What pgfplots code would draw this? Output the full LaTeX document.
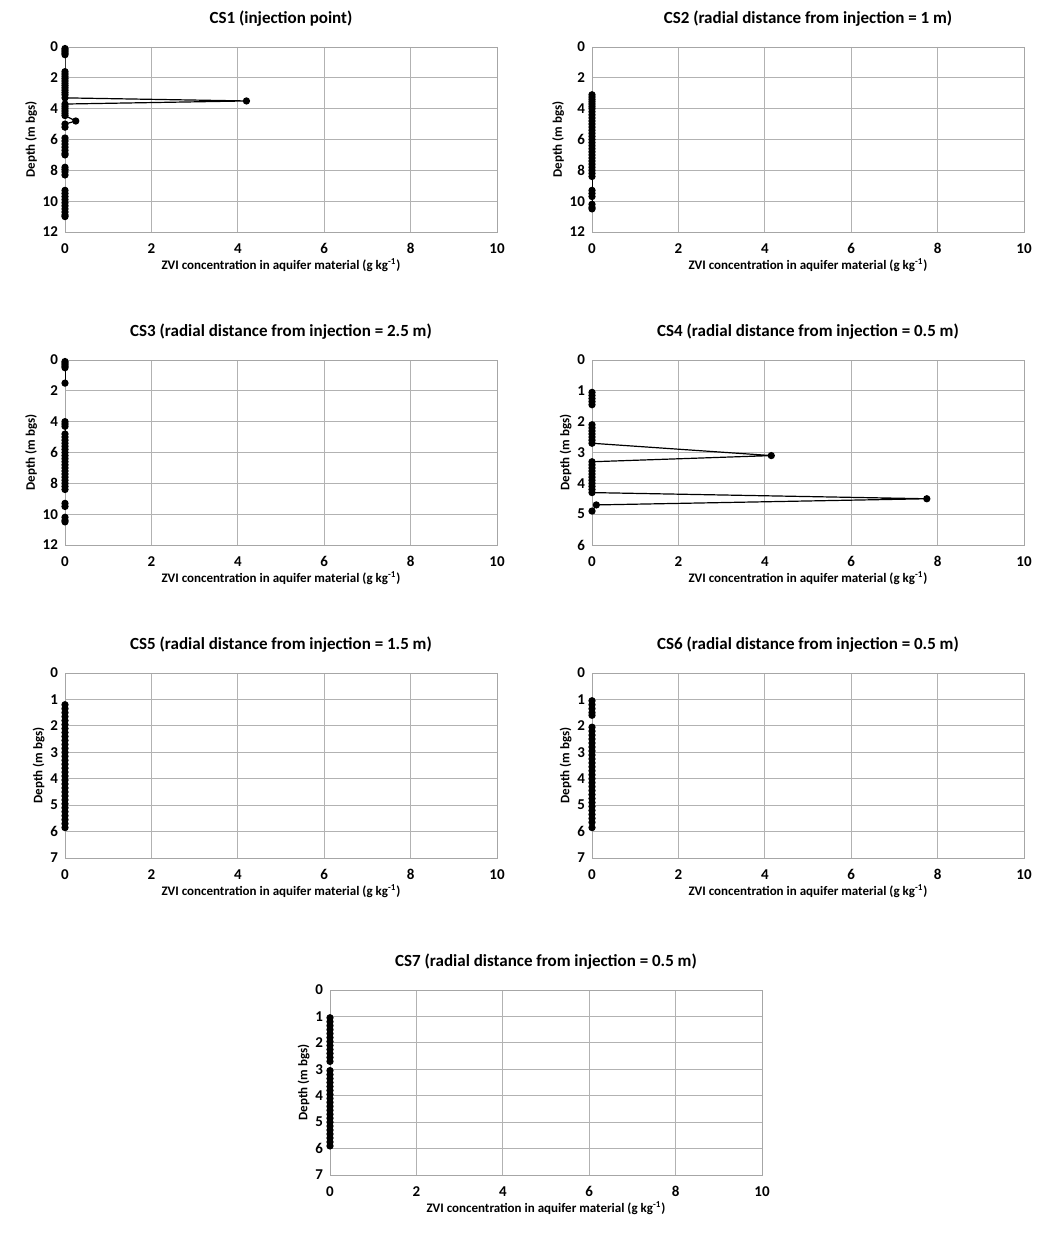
\documentclass[border=0pt]{standalone}
\usepackage{pgfplots}
\pgfplotsset{compat=1.18}
\usepackage{fontspec}
\setmainfont{Carlito}[Numbers=Lining]
\pgfplotsset{cs/.style={width=216pt,height=92.5pt,scale only axis,y dir=reverse,
 xmin=0,xmax=10,xtick={0,2,...,10},xticklabels={0,2,4,6,8,10},grid=major,grid style={gray!60,line width=0.4pt},
 axis line style={gray!70},tick style={draw=none},
 ticklabel style={font=\fontsize{7.5}{8}\selectfont\bfseries},
 xticklabel style={yshift=-1pt,text height=6pt,text depth=0pt},
 title style={font=\fontsize{8.5}{10}\selectfont\bfseries,yshift=1pt},
 xlabel style={font=\fontsize{6.5}{7}\selectfont\bfseries,yshift=4pt},
 ylabel style={font=\fontsize{6.5}{7}\selectfont\bfseries,yshift=-4pt},
 xlabel={ZVI concentration in aquifer material (g kg\textsuperscript{-1})},
 ylabel={Depth (m bgs)},anchor=south west,unbounded coords=jump},
 y12/.style={ymin=0,ymax=12,ytick={0,2,...,12},yticklabels={0,2,4,6,8,10,12}},
 y6/.style={ymin=0,ymax=6,ytick={0,1,...,6},yticklabels={0,1,2,3,4,5,6}},
 y7/.style={ymin=0,ymax=7,ytick={0,1,...,7},yticklabels={0,1,2,3,4,5,6,7}},
 dat/.style={black,line width=0.6pt,mark=*,mark size=1.5pt}}
\begin{document}
\begin{tikzpicture}
\path (0,0) rectangle (522pt,-620pt);
\begin{axis}[cs,y12,at={(32.5pt,-116pt)},title={CS1 (injection point)}]
\addplot[dat] coordinates {(0,0.1)(0,0.2)(0,0.3)(0,0.4)(0,0.5)(0,1.6)(0,1.75)(0,1.9)(0,2.05)(0,2.2)(0,2.35)(0,2.5)(0,2.65)(0,2.8)(0,2.95)(0,3.1)(0,3.3)(4.2,3.5)(0,3.7)(0,3.85)(0,4.0)(0,4.15)(0,4.3)(0,4.45)(0.25,4.8)(0,5.0)(0,5.2) (nan,nan)
(0,5.9)(0,6.1)(0,6.3)(0,6.5)(0,6.7)(0,6.9)(0,7.0)(nan,nan)(0,7.8)(0,7.95)(0,8.1)(0,8.3)(nan,nan)(0,9.3)(0,9.5)(0,9.7)(0,9.9)(0,10.1)(0,10.3)(0,10.5)(0,10.7)(0,10.9)(0,11.0)};
\end{axis}
\begin{axis}[cs,y12,at={(296pt,-116pt)},title={CS2 (radial distance from injection = 1 m)}]
\addplot[dat] coordinates {(0,3.1)(0,3.25)(0,3.4)(0,3.55)(0,3.7)(0,3.85)(0,4.0)(0,4.2)(0,4.4)(0,4.6)(0,4.8)(0,5.0)(0,5.2)(0,5.4)(0,5.6)(0,5.8)(0,6.0)(0,6.2)(0,6.4)(0,6.6)(0,6.8)(0,7.0)(0,7.2)(0,7.4)(0,7.6)(0,7.8)(0,8.0)(0,8.2)(0,8.4)(0,9.3)(0,9.5)(0,9.7)(0,10.2)(0,10.4)(0,10.5)};
\end{axis}
\begin{axis}[cs,y12,at={(32.5pt,-272.5pt)},title={CS3 (radial distance from injection = 2.5 m)}]
\addplot[dat] coordinates {(0,0.1)(0,0.2)(0,0.3)(0,0.4)(0,0.5)(0,1.5)(nan,nan)(0,4.0)(0,4.15)(0,4.3)(0,4.8)(0,5.0)(0,5.2)(0,5.4)(0,5.6)(0,5.8)(0,6.0)(0,6.2)(0,6.4)(0,6.6)(0,6.8)(0,7.0)(0,7.2)(0,7.4)(0,7.6)(0,7.8)(0,8.0)(0,8.2)(0,8.4)(nan,nan)(0,9.3)(0,9.5)(nan,nan)(0,10.2)(0,10.4)(0,10.5)};
\end{axis}
\begin{axis}[cs,y6,at={(296pt,-272.5pt)},title={CS4 (radial distance from injection = 0.5 m)}]
\addplot[dat] coordinates {(0,1.05)(0,1.15)(0,1.25)(0,1.35)(0,1.45)(nan,nan)(0,2.1)(0,2.2)(0,2.3)(0,2.4)(0,2.5)(0,2.6)(0,2.7)(4.15,3.1)(0,3.3)(0,3.4)(0,3.5)(0,3.6)(0,3.7)(0,3.8)(0,3.9)(0,4.0)(0,4.1)(0,4.2)(0,4.3)(7.75,4.5)(0.1,4.7)(0,4.9)};
\end{axis}
\begin{axis}[cs,y7,at={(32.5pt,-429pt)},title={CS5 (radial distance from injection = 1.5 m)}]
\addplot[dat] coordinates {(0,1.2)(0,1.35)(0,1.5)(0,1.65)(0,1.8)(0,1.95)(0,2.1)(0,2.25)(0,2.4)(0,2.55)(0,2.7)(0,2.85)(0,3.0)(0,3.15)(0,3.3)(0,3.45)(0,3.6)(0,3.75)(0,3.9)(0,4.05)(0,4.2)(0,4.35)(0,4.5)(0,4.65)(0,4.8)(0,4.95)(0,5.1)(0,5.25)(0,5.4)(0,5.55)(0,5.7)(0,5.85)};
\end{axis}
\begin{axis}[cs,y7,at={(296pt,-429pt)},title={CS6 (radial distance from injection = 0.5 m)}]
\addplot[dat] coordinates {(0,1.05)(0,1.2)(0,1.35)(0,1.5)(0,1.6)(nan,nan)(0,2.05)(0,2.2)(0,2.35)(0,2.5)(0,2.65)(0,2.8)(0,2.95)(0,3.1)(0,3.25)(0,3.4)(0,3.55)(0,3.7)(0,3.85)(0,4.0)(0,4.15)(0,4.3)(0,4.45)(0,4.6)(0,4.75)(0,4.9)(0,5.05)(0,5.2)(0,5.35)(0,5.5)(0,5.65)(0,5.85)};
\end{axis}
\begin{axis}[cs,y7,at={(165pt,-587.5pt)},title={CS7 (radial distance from injection = 0.5 m)}]
\addplot[dat] coordinates {(0,1.05)(0,1.2)(0,1.35)(0,1.5)(0,1.65)(0,1.8)(0,1.95)(0,2.1)(0,2.25)(0,2.4)(0,2.55)(0,2.7)(nan,nan)(0,3.05)(0,3.2)(0,3.35)(0,3.5)(0,3.65)(0,3.8)(0,3.95)(0,4.1)(0,4.25)(0,4.4)(0,4.55)(0,4.7)(0,4.85)(0,5.0)(0,5.15)(0,5.3)(0,5.45)(0,5.6)(0,5.75)(0,5.9)};
\end{axis}
\end{tikzpicture}
\end{document}
